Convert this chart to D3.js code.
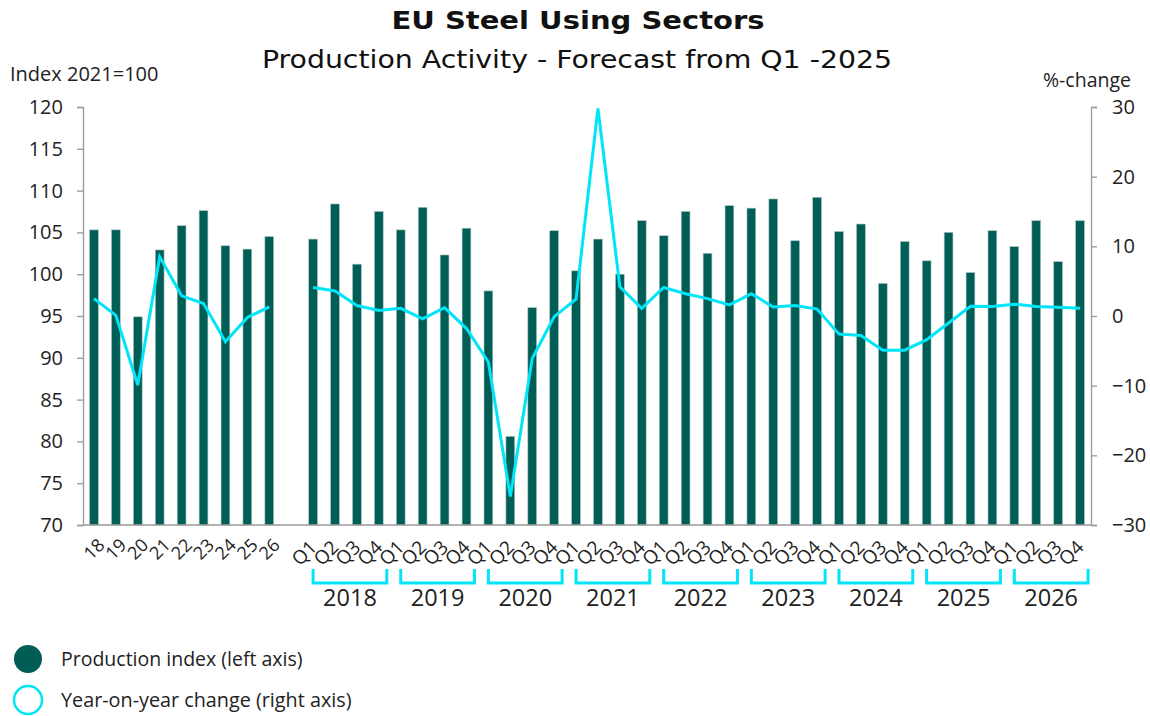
<!DOCTYPE html>
<html>
<head>
<meta charset="utf-8">
<script src="https://cdn.jsdelivr.net/npm/d3@7"></script>
<style>
  body { margin: 0; background: #fff; }
  svg text { font-family: "Open Sans", "Noto Sans", sans-serif; fill: #222; }
</style>
</head>
<body>
<div id="chart"></div>
<script>
// annual figures (left part of the chart)
const annualLabels = ["18", "19", "20", "21", "22", "23", "24", "25", "26"];
const annualIndex = [105.3, 105.3, 94.9, 102.9, 105.8, 107.6, 103.4, 103.0, 104.5];
const annualChange = [2.5, 0.1, -9.9, 8.5, 2.9, 1.8, -3.7, -0.2, 1.3];

// quarterly figures
const years = ["2018", "2019", "2020", "2021", "2022", "2023", "2024", "2025", "2026"];
const quarters = ["Q1", "Q2", "Q3", "Q4"];
const quarterlyIndex = [
  104.2, 108.4, 101.2, 107.5,
  105.3, 108.0, 102.3, 105.5,
  98.0, 80.6, 96.0, 105.2,
  100.4, 104.2, 100.0, 106.4,
  104.6, 107.5, 102.5, 108.2,
  107.9, 109.0, 104.0, 109.2,
  105.1, 106.0, 98.9, 103.9,
  101.6, 105.0, 100.2, 105.2,
  103.3, 106.4, 101.5, 106.4
];
const quarterlyChange = [
  4.1, 3.6, 1.5, 0.8,
  1.1, -0.4, 1.2, -1.8,
  -6.6, -25.9, -6.1, -0.1,
  2.4, 29.8, 4.2, 1.1,
  4.1, 3.2, 2.5, 1.6,
  3.2, 1.3, 1.5, 1.0,
  -2.6, -2.8, -4.9, -4.9,
  -3.4, -1.0, 1.4, 1.35,
  1.7, 1.35, 1.25, 1.1
];

const leftTicks = [70, 75, 80, 85, 90, 95, 100, 105, 110, 115, 120];
const rightTicks = [-30, -20, -10, 0, 10, 20, 30];

const W = 1150, H = 716;
const plot = { left: 83, right: 1091, top: 107, bottom: 525 };
const teal = "#005e57";
const cyan = "#00e5f7";

// build rows: annual, one empty slot, quarterly
const rows = [];
annualLabels.forEach((l, i) => rows.push({ key: "a" + l, label: l, index: annualIndex[i], change: annualChange[i], group: "a" }));
rows.push({ key: "gap", label: "", index: null, change: null, group: "gap" });
years.forEach((y, yi) => quarters.forEach((q, qi) => {
  const k = yi * 4 + qi;
  rows.push({ key: y + q, label: q, year: y, index: quarterlyIndex[k], change: quarterlyChange[k], group: "q" });
}));

const svg = d3.select("#chart").append("svg").attr("width", W).attr("height", H);

const x = d3.scaleBand().domain(rows.map(d => d.key)).range([plot.left, plot.right]).paddingInner(0.6).paddingOuter(0.3);
const yL = d3.scaleLinear().domain([70, 120]).range([plot.bottom, plot.top]);
const yR = d3.scaleLinear().domain([-30, 30]).range([plot.bottom, plot.top]);
const cx = k => x(k) + x.bandwidth() / 2;

// titles (font stretched sideways to mimic the wide typeface)
svg.append("text").attr("transform", "translate(578,29) scale(1.21,1)").attr("text-anchor", "middle")
  .style("font-family", "'DejaVu Sans', sans-serif").style("font-weight", "bold").style("font-size", "24px")
  .style("fill", "#111").text("EU Steel Using Sectors");
svg.append("text").attr("transform", "translate(577,68) scale(1.135,1)").attr("text-anchor", "middle")
  .style("font-family", "'DejaVu Sans', sans-serif").style("font-size", "25px")
  .style("fill", "#111").text("Production Activity - Forecast from Q1 -2025");

svg.append("text").attr("x", 10).attr("y", 81).style("font-size", "20px").text("Index 2021=100");
svg.append("text").attr("x", 1131).attr("y", 87).attr("text-anchor", "end").style("font-size", "19.5px").text("%-change");

// axes
const leftAxis = svg.append("g").attr("transform", `translate(${plot.left},0)`)
  .call(d3.axisLeft(yL).tickValues(leftTicks).tickSize(6).tickPadding(14));
const rightAxis = svg.append("g").attr("transform", `translate(${plot.right},0)`)
  .call(d3.axisRight(yR).tickValues(rightTicks).tickSize(6).tickPadding(15).tickFormat(d => d < 0 ? "\u2212" + Math.abs(d) : d));
[leftAxis, rightAxis].forEach(g => {
  g.select(".domain").attr("stroke", "#999").attr("stroke-width", 1.3);
  g.selectAll(".tick line").attr("stroke", "#999").attr("stroke-width", 1.3);
  g.selectAll(".tick text").style("font-size", "20px").style("fill", "#222");
});

// bars
svg.append("g").selectAll("rect")
  .data(rows.filter(d => d.index !== null))
  .join("rect")
  .attr("x", d => x(d.key))
  .attr("width", x.bandwidth())
  .attr("y", d => yL(d.index))
  .attr("height", d => yL(70) - yL(d.index))
  .attr("fill", teal)
  .attr("stroke", "#a9c3c0")
  .attr("stroke-width", 0.6);

// bottom axis line
svg.append("line").attr("x1", plot.left).attr("x2", plot.right)
  .attr("y1", plot.bottom).attr("y2", plot.bottom)
  .attr("stroke", "#999").attr("stroke-width", 1.3);

// change lines (two separate runs)
const line = d3.line().x(d => cx(d.key)).y(d => yR(d.change));
["a", "q"].forEach(g => {
  svg.append("path").datum(rows.filter(d => d.group === g))
    .attr("d", line).attr("fill", "none").attr("stroke", cyan)
    .attr("stroke-width", 3).attr("stroke-linejoin", "miter");
});

// category labels, rotated 45 degrees
svg.append("g").selectAll("text")
  .data(rows.filter(d => d.group !== "gap"))
  .join("text")
  .attr("transform", d => d.group === "a"
    ? `translate(${cx(d.key)},${plot.bottom + 24}) rotate(-45)`
    : `translate(${cx(d.key) - 9},${plot.bottom + 28}) rotate(-45)`)
  .attr("text-anchor", "middle")
  .attr("dy", "0.35em")
  .style("font-size", d => d.group === "a" ? "18px" : "19px")
  .text(d => d.label);

// year brackets
const bracketTop = 569, bracketBottom = 583;
const yearG = svg.append("g");
years.forEach(y => {
  const x0 = cx(y + "Q1");
  const x1 = cx(y + "Q4") + 8;
  yearG.append("path")
    .attr("d", `M${x0},${bracketTop}V${bracketBottom}H${x1}V${bracketTop}`)
    .attr("fill", "none").attr("stroke", cyan).attr("stroke-width", 3);
  yearG.append("text").attr("x", (x0 + x1) / 2).attr("y", 606)
    .attr("text-anchor", "middle").style("font-size", "23.5px").text(y);
});

// legend
const legend = svg.append("g");
legend.append("circle").attr("cx", 28).attr("cy", 659).attr("r", 14).attr("fill", teal);
legend.append("text").attr("x", 61).attr("y", 666).style("font-size", "19.5px").text("Production index (left axis)");
legend.append("circle").attr("cx", 28).attr("cy", 700).attr("r", 14).attr("fill", "none")
  .attr("stroke", cyan).attr("stroke-width", 2.5);
legend.append("text").attr("x", 61).attr("y", 707).style("font-size", "19.8px").text("Year-on-year change (right axis)");
</script>
</body>
</html>
